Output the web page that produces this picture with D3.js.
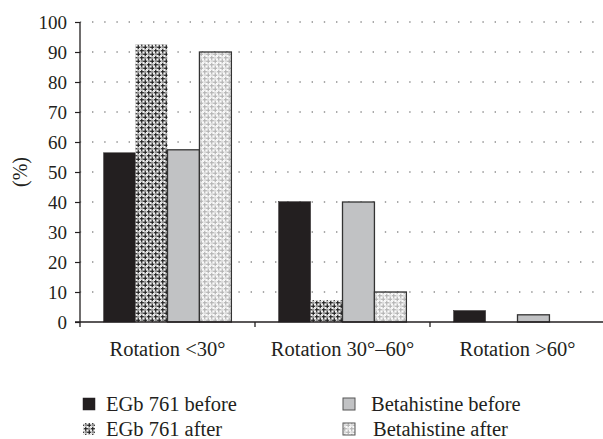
<!DOCTYPE html>
<html><head><meta charset="utf-8">
<script src="https://cdn.jsdelivr.net/npm/d3@7"></script>
<style>body{margin:0;background:#fff}svg{display:block}text{font-family:"Liberation Serif","Times New Roman",serif;fill:#231f20}</style>
</head><body><svg id="c" width="603" height="439"></svg>
<script>
const categories = ["Rotation <30°", "Rotation 30°–60°", "Rotation >60°"];
const seriesNames = ["EGb 761 before", "EGb 761 after", "Betahistine before", "Betahistine after"];
const egbBefore = [56.4, 40.1, 3.8];
const egbAfter = [92.5, 7.3, 0];
const betaBefore = [57.4, 40.0, 2.4];
const betaAfter = [90.0, 10.0, 0];
const yTicks = [0, 10, 20, 30, 40, 50, 60, 70, 80, 90, 100];

const values = [egbBefore, egbAfter, betaBefore, betaAfter];
const svg = d3.select("#c");
const ink = "#231f20";
const FONT = "'Liberation Serif','Times New Roman',serif";
const m = {left: 80, right: 605, top: 22, bottom: 322};

// patterns
const defs = svg.append("defs");
function plusPattern(id, c1, c2, bg) {
  const p = defs.append("pattern").attr("id", id).attr("patternUnits", "userSpaceOnUse")
    .attr("width", 7).attr("height", 7);
  p.append("rect").attr("width", 7).attr("height", 7).attr("fill", bg);
  const plus = (cx, cy, col) => {
    p.append("rect").attr("x", cx - 2.2).attr("y", cy - 0.6).attr("width", 4.4).attr("height", 1.2).attr("fill", col);
    p.append("rect").attr("x", cx - 0.6).attr("y", cy - 2.2).attr("width", 1.2).attr("height", 4.4).attr("fill", col);
  };
  const blob = (cx, cy, col) => {
    p.append("rect").attr("x", cx - 1.2).attr("y", cy - 1.2).attr("width", 2.4).attr("height", 2.4).attr("fill", col);
  };
  plus(1.75, 1.75, c1);
  plus(5.25, 5.25, c1);
  blob(5.25, 1.75, c2);
  blob(1.75, 5.25, c2);
  return "url(#" + id + ")";
}
const fills = [ink, plusPattern("pA", "#1e1e1e", "#8c8c8c", "#f4f4f4"), "#c1c2c4", plusPattern("pB", "#b4b4b4", "#dadada", "#fbfbfb")];
const strokes = [ink, "none", "#333", "#333"];

const x0 = d3.scaleBand().domain(categories).range([m.left, m.right]);
const bw = x0.bandwidth();
const x1 = d3.scaleBand().domain(seriesNames).range([bw * 0.135, bw * 0.865]);
const y = d3.scaleLinear().domain([0, 100]).range([m.bottom, m.top]);

// grid
svg.append("g").selectAll("line").data(yTicks.filter(d => d > 0)).join("line")
  .attr("x1", m.left).attr("x2", 603).attr("y1", d => y(d)).attr("y2", d => y(d))
  .attr("stroke", "#8f8f8f").attr("stroke-width", 1.4)
  .attr("stroke-dasharray", "1.4 10.8").attr("stroke-dashoffset", -12);

// bars
const g = svg.append("g");
categories.forEach((c, ci) => {
  seriesNames.forEach((s, si) => {
    const v = values[si][ci];
    if (v <= 0) return;
    g.append("rect")
      .attr("x", x0(c) + x1(s)).attr("width", x1.bandwidth())
      .attr("y", y(v)).attr("height", y(0) - y(v))
      .attr("fill", fills[si])
      .attr("stroke", strokes[si]).attr("stroke-width", si === 0 ? 0.5 : 1.3);
  });
});

// y axis
const ya = svg.append("g").attr("transform", `translate(${m.left},0)`)
  .call(d3.axisLeft(y).tickValues(yTicks).tickSize(5).tickPadding(8));
ya.attr("font-family", FONT);
ya.select(".domain").remove();
ya.selectAll("line").attr("stroke", ink).attr("stroke-width", 1.2);
ya.selectAll("text").attr("font-family", FONT).style("font-family", FONT).style("font-size", "19px").attr("fill", ink);
svg.append("line").attr("x1", m.left).attr("x2", m.left).attr("y1", m.top).attr("y2", m.bottom + 5)
  .attr("stroke", ink).attr("stroke-width", 1.3);

// x axis
svg.append("line").attr("x1", m.left - 5).attr("x2", 603).attr("y1", m.bottom).attr("y2", m.bottom)
  .attr("stroke", ink).attr("stroke-width", 1.3);
svg.append("g").selectAll("line").data(categories.slice(1)).join("line")
  .attr("x1", d => x0(d)).attr("x2", d => x0(d)).attr("y1", m.bottom).attr("y2", m.bottom + 5)
  .attr("stroke", ink).attr("stroke-width", 1.3);
svg.append("g").selectAll("text").data(categories).join("text")
  .attr("x", d => x0(d) + bw / 2).attr("y", 356).attr("text-anchor", "middle")
  .style("font-family", FONT).style("font-size", "20.5px").text(d => d);

// y label
svg.append("text").attr("transform", "translate(27,172) rotate(-90)").attr("text-anchor", "middle")
  .style("font-family", FONT).style("font-size", "20px").text("(%)");

// legend
const legPos = [[83, 398], [83, 423], [343, 398], [343, 423]];
seriesNames.forEach((s, i) => {
  const [lx, ly] = legPos[i];
  svg.append("rect").attr("x", lx).attr("y", ly).attr("width", 12).attr("height", 12)
    .attr("fill", fills[i]).attr("stroke", i === 1 ? "none" : (i === 0 ? ink : "#555")).attr("stroke-width", i === 0 ? 0.5 : 1);
  svg.append("text").attr("x", i < 2 ? 106 : (i === 2 ? 371 : 373)).attr("y", ly + 13)
    .style("font-family", FONT).style("font-size", "20.5px").text(s);
});
</script></body></html>
